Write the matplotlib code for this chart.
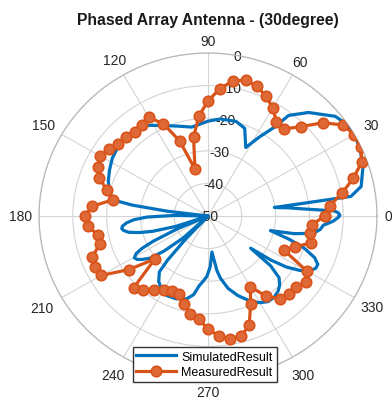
import numpy as np
import matplotlib
matplotlib.use("Agg")
import matplotlib.pyplot as plt

plt.rcParams['font.family'] = ['Liberation Sans', 'DejaVu Sans']

# Simulated array pattern (angle in degrees, normalised gain in dB)
sim_angle_deg = [0, 0.5, 1.5, 2.4, 4.45, 6.0, 7.6, 8.1, 11.3, 18, 24.6, 30, 35,
                 39.1, 46.9, 52.3, 54.1, 58, 62, 68, 74, 83, 90, 100, 108,
                 116, 122, 127, 135, 141, 148, 154, 160, 165, 170, 171.5, 173,
                 176, 179, 181, 183, 185, 187, 188.6, 190, 192, 194, 196,
                 198.5, 201, 203.5, 205.5, 207, 208.5, 210.5, 212.5, 214.5,
                 217, 219.5, 222.5, 225, 227, 228.5, 230, 234, 238, 243,
                 249.5, 256, 260, 263, 266, 269, 272.5, 276, 279, 281, 285,
                 290, 296, 300, 304, 308, 312, 315, 318, 320.5, 322, 324, 326,
                 328.5, 331, 333.3, 335.5, 338, 341, 343.5, 346.4, 348, 350.3,
                 353, 355.2, 357.5, 359.4, 360]
sim_gain_db = [-11.2, -11.0, -11.5, -12.6, -21.8, -26.0, -30.2, -7.3, -3.8,
               -1.8, -0.5, 0.0, -0.4, -1.5, -6.5, -11.0, -16.2, -21.5, -26.2,
               -21.0, -19.8, -20.0, -20.9, -22.3, -21.0, -19.1, -17.2, -15.9,
               -15.6, -15.9, -16.6, -17.6, -18.6, -19.8, -21.4, -27.3, -37.8,
               -50.0, -40.0, -32.0, -28.0, -25.8, -24.5, -24.2, -24.6, -26.0,
               -29.0, -33.0, -40.0, -50.0, -40.0, -32.0, -28.0, -25.8, -24.7,
               -25.2, -26.5, -28.5, -33.0, -40.0, -50.0, -40.0, -32.0, -27.6,
               -25.2, -23.8, -22.7, -22.9, -23.8, -25.5, -28.4, -30.0, -31.5,
               -34.5, -38.9, -33.0, -30.5, -27.0, -24.0, -20.8, -19.3, -18.3,
               -18.3, -19.0, -20.0, -21.7, -26.0, -34.0, -27.0, -22.0, -18.0,
               -15.5, -14.3, -14.3, -16.0, -20.0, -25.0, -31.0, -24.0, -18.4,
               -16.5, -15.8, -13.0, -11.4, -11.2]

# Measured pattern, sampled every 5 degrees (last point closes the loop)
meas_angle_deg = list(range(0, 365, 5))
meas_gain_db = [-15.4, -13.8, -9.8, -5.5, -1.6, 0.0, 0.0, -1.3, -5.5, -11.2,
                -15.2, -14.7, -11.7, -9.4, -7.7, -6.9, -7.9, -10.9, -14.7,
                -19.2, -25.4, -35.1, -25.5, -18.8, -15.1, -15.9, -16.4, -15.7,
                -15.4, -14.4, -13.1, -14.2, -15.8, -19.0, -21.4, -15.6, -13.6,
                -14.3, -16.9, -16.9, -13.6, -13.2, -13.6, -21.3, -29.5, -18.9,
                -20.3, -22.4, -23.7, -24.5, -24.7, -22.2, -19.5, -18.3, -15.3,
                -13.1, -11.7, -12.0, -14.3, -20.2, -24.9, -20.0, -16.8, -16.3,
                -15.9, -14.7, -16.3, -25.1, -22.5, -18.3, -19.4, -19.2, -15.4]

theta_ticks = list(range(0, 360, 30))
# radial distance (dB beyond the outer ring) of each angle label's centre
theta_label_r = [3.3, 5.6, 4.6, 3.7, 5.2, 6.1, 5.6, 6.6, 6.4, 4.0, 6.2, 6.1]
r_ticks = [-50, -40, -30, -20, -10, 0]
r_label_angle = 80

blue = '#0072BD'
orange = '#D95319'
text_color = '#262626'

fig = plt.figure(figsize=(3.92, 4.02), dpi=100)
ax = fig.add_axes([0.0995, 0.0547, 0.8622, 0.8109], projection='polar')
ax.set_aspect('auto')

ax.plot(np.deg2rad(sim_angle_deg), sim_gain_db, color=blue, lw=2.3,
        label='SimulatedResult', zorder=3, solid_joinstyle='round')
ax.plot(np.deg2rad(meas_angle_deg), meas_gain_db, color=orange, lw=2.3,
        marker='o', ms=7.5, mfc='#DE6836', mec=orange, mew=1.2,
        label='MeasuredResult', zorder=4)

ax.set_rlim(-50, 0)
ax.set_rticks(r_ticks)
ax.set_yticklabels([])
ax.set_thetagrids(theta_ticks, [''] * len(theta_ticks))
ax.grid(True, color='#d4d4d4', lw=0.8)
ax.spines['polar'].set_color('#b8b8b8')
ax.spines['polar'].set_linewidth(0.9)

for t, rl in zip(theta_ticks, theta_label_r):
    ax.text(np.deg2rad(t), rl, str(t), ha='center', va='center',
            fontsize=10, color=text_color, clip_on=False)
for v in r_ticks:
    ax.text(np.deg2rad(r_label_angle), v, str(v), ha='center', va='center',
            fontsize=10, color=text_color, zorder=2)

fig.text(0.53, 0.949, 'Phased Array Antenna - (30degree)', ha='center',
         va='center', fontsize=11.3, fontweight='bold', color='#1a1a1a')

leg = fig.legend(loc='lower center', bbox_to_anchor=(0.522, 0.047),
                 fontsize=9, frameon=True, fancybox=False, handlelength=3.2,
                 borderpad=0.3, labelspacing=0.3, handletextpad=0.4,
                 borderaxespad=0, framealpha=1)
leg.get_frame().set_edgecolor('#333333')
leg.get_frame().set_linewidth(1.0)

fig.savefig('out.png', dpi=100)
